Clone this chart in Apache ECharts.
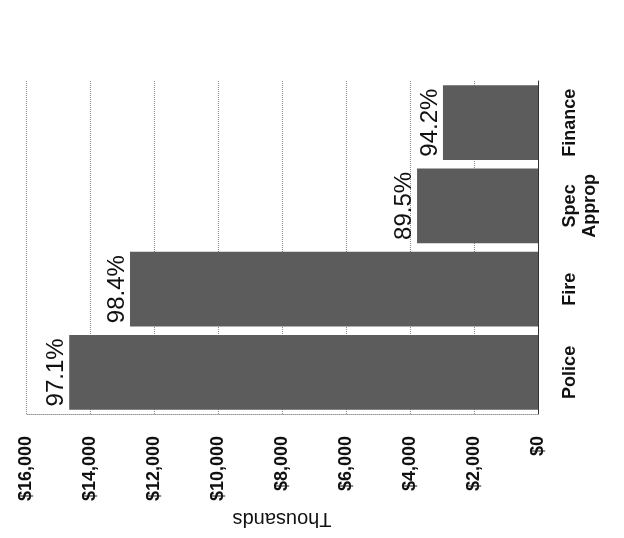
<!DOCTYPE html>
<html>
<head>
<meta charset="utf-8">
<title>Department spending</title>
<script src="https://cdn.jsdelivr.net/npm/echarts@6/dist/echarts.min.js"></script>
<style>
  html, body { margin: 0; padding: 0; background: #ffffff; }
  #chart { width: 624px; height: 538px; }
</style>
</head>
<body>
<div id="chart"></div>
<script>
// Departments, listed from the zero-side edge outwards
const categories = ['Police', 'Fire', 'Spec\nApprop', 'Finance'];
// Spending in thousands of dollars
const spending = [14650, 12750, 3780, 2970];
// Share of budget used, shown at the end of each bar
const percentUsed = ['97.1%', '98.4%', '89.5%', '94.2%'];
// Value axis range and ticks (thousands)
const axisMin = 0;
const axisMax = 16000;
const axisStep = 2000;

const FONT = '"Liberation Sans", Arial, sans-serif';

function dollars(v) {
  return '$' + v.toLocaleString('en-US');
}

const chart = echarts.init(document.getElementById('chart'), null, { renderer: 'canvas' });

chart.setOption({
  animation: false,
  backgroundColor: '#ffffff',
  grid: { left: 26, right: 86, top: 81, bottom: 124, containLabel: false },
  xAxis: {
    type: 'value',
    inverse: true,
    min: axisMin,
    max: axisMax,
    interval: axisStep,
    name: 'Thousands',
    nameLocation: 'middle',
    nameRotate: 180,
    nameGap: 95,
    nameTextStyle: { fontFamily: FONT, fontSize: 20, color: '#111' },
    axisLine: { show: true, lineStyle: { color: '#999', type: 'dotted', width: 1 } },
    axisTick: { show: false },
    axisLabel: {
      rotate: 90,
      margin: 22,
      fontFamily: FONT,
      fontSize: 18,
      fontWeight: 'bold',
      color: '#111',
      formatter: dollars
    },
    splitLine: { show: true, lineStyle: { color: '#8a8a8a', type: 'dotted', width: 1 } }
  },
  yAxis: {
    type: 'category',
    position: 'right',
    data: categories,
    axisLine: { show: true, lineStyle: { color: '#333', width: 1 } },
    axisTick: { show: false },
    axisLabel: {
      interval: 0,
      rotate: 90,
      margin: 22,
      fontFamily: FONT,
      fontSize: 18,
      fontWeight: 'bold',
      lineHeight: 20,
      color: '#111'
    },
    splitLine: { show: false }
  },
  series: [{
    type: 'bar',
    data: spending,
    barCategoryGap: '10%',
    itemStyle: { color: '#5c5c5c' },
    label: {
      show: true,
      position: 'left',
      distance: -3,
      rotate: 90,
      align: 'center',
      verticalAlign: 'bottom',
      offset: [0, -4],
      fontFamily: FONT,
      fontSize: 24,
      color: '#111',
      formatter: function (p) { return percentUsed[p.dataIndex]; }
    }
  }]
});
</script>
</body>
</html>
